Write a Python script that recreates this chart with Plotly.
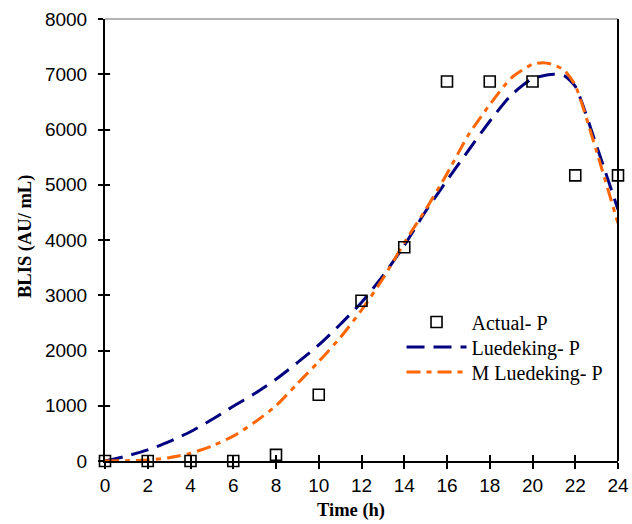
import plotly.graph_objects as go

# Measured BLIS activity
time_actual = [0, 2, 4, 6, 8, 10, 12, 14, 16, 18, 20, 22, 24]
blis_actual = [0, 0, 0, 0, 110, 1200, 2900, 3870, 6870, 6870, 6870, 5170, 5170]

# Luedeking-Piret model prediction
time_lp = [0, 1, 2, 3, 4, 5, 6, 7, 8, 9, 10, 11, 12, 13, 14, 15, 16, 17, 18, 19, 20, 21, 21.5, 22, 23, 24]
blis_lp = [0, 90, 200, 350, 530, 750, 990, 1220, 1480, 1780, 2100, 2470, 2870, 3350, 3900, 4520,
           5080, 5620, 6150, 6620, 6920, 7000, 6970, 6780, 5700, 4550]

# Modified Luedeking-Piret model prediction
time_mlp = [0, 1, 2, 3, 4, 5, 6, 7, 8, 9, 10, 11, 12, 13, 14, 15, 16, 17, 18, 19, 20, 20.5, 21, 21.5, 22, 23, 24]
blis_mlp = [0, 5, 20, 60, 140, 270, 450, 700, 1000, 1400, 1800, 2230, 2730, 3300, 3950, 4550,
            5200, 5900, 6450, 6930, 7180, 7210, 7170, 7070, 6800, 5600, 4300]

x_ticks = list(range(0, 25, 2))
y_ticks = list(range(0, 8001, 1000))

legend_font = dict(family="Liberation Serif, Times New Roman, serif", size=20, color="black")
tick_font = dict(family="Liberation Sans, Arial, sans-serif", size=19, color="black")
title_font = dict(family="Liberation Serif, Times New Roman, serif", size=18.5, color="black")

fig = go.Figure()

fig.add_trace(go.Scatter(
    x=time_lp, y=blis_lp, mode="lines", name="Luedeking- P", legend="legend2",
    line=dict(color="#000080", width=3, dash="18px,9px", shape="spline", smoothing=0.6),
))
fig.add_trace(go.Scatter(
    x=time_mlp, y=blis_mlp, mode="lines", name="M Luedeking- P", legend="legend3",
    line=dict(color="#FF6600", width=3, dash="14px,6px,5px,6px", shape="spline", smoothing=0.6),
))
fig.add_trace(go.Scatter(
    x=time_actual, y=blis_actual, mode="markers", name="Actual- P", legend="legend",
    marker=dict(symbol="square-open", size=11, color="black", line=dict(width=1.6, color="black")),
    cliponaxis=False,
))

# dummy invisible trace to activate the overlay axes (inner half of crossing ticks)
fig.add_trace(go.Scatter(x=[0], y=[0], xaxis="x2", yaxis="y2", mode="markers",
                         marker=dict(opacity=0), showlegend=False, hoverinfo="skip"))


def legend_box(y):
    return dict(x=0.578, y=y, xanchor="left", yanchor="middle", font=legend_font,
                bgcolor="rgba(0,0,0,0)", itemwidth=60)


fig.update_layout(
    width=632, height=524,
    margin=dict(l=105, r=14, t=19, b=63, autoexpand=False),
    plot_bgcolor="white", paper_bgcolor="white",
    showlegend=True,
    legend=legend_box(0.3145),
    legend2=legend_box(0.258),
    legend3=legend_box(0.2015),
    xaxis=dict(
        range=[0, 24], tickvals=x_ticks, ticks="outside", ticklen=6, tickwidth=1.5,
        tickcolor="black", showline=True, linecolor="black", linewidth=2,
        showgrid=False, zeroline=False, tickfont=tick_font, automargin=False,
    ),
    yaxis=dict(
        range=[0, 8000], tickvals=y_ticks, ticks="outside", ticklen=5, tickwidth=1.5,
        tickcolor="black", showline=True, linecolor="black", linewidth=2,
        showgrid=False, zeroline=False, tickfont=tick_font, automargin=False,
        ticklabelstandoff=7,
    ),
    xaxis2=dict(
        overlaying="x", range=[0, 24], tickvals=x_ticks, ticks="inside", ticklen=6,
        tickwidth=1.5, tickcolor="black", showticklabels=False, showgrid=False,
        zeroline=False, side="bottom", anchor="y", automargin=False,
    ),
    yaxis2=dict(
        overlaying="y", range=[0, 8000], tickvals=y_ticks, ticks="inside", ticklen=5,
        tickwidth=1.5, tickcolor="black", showticklabels=False, showgrid=False,
        zeroline=False, side="left", anchor="x", automargin=False,
    ),
    shapes=[
        dict(type="line", xref="paper", yref="paper", x0=0, x1=1, y0=1, y1=1,
             line=dict(color="#666666", width=1.2)),
        dict(type="line", xref="paper", yref="paper", x0=1, x1=1, y0=0, y1=1,
             line=dict(color="black", width=2)),
    ],
    annotations=[
        dict(text="<b>Time (h)</b>", xref="paper", yref="paper", x=0.4795, y=-0.111,
             xanchor="center", yanchor="middle", showarrow=False, font=title_font),
        dict(text="<b>BLIS (AU/ mL)</b>", xref="paper", yref="paper", x=-0.156, y=0.509,
             xanchor="center", yanchor="middle", showarrow=False, textangle=-90, font=title_font),
    ],
)

fig.write_html("out.html")
